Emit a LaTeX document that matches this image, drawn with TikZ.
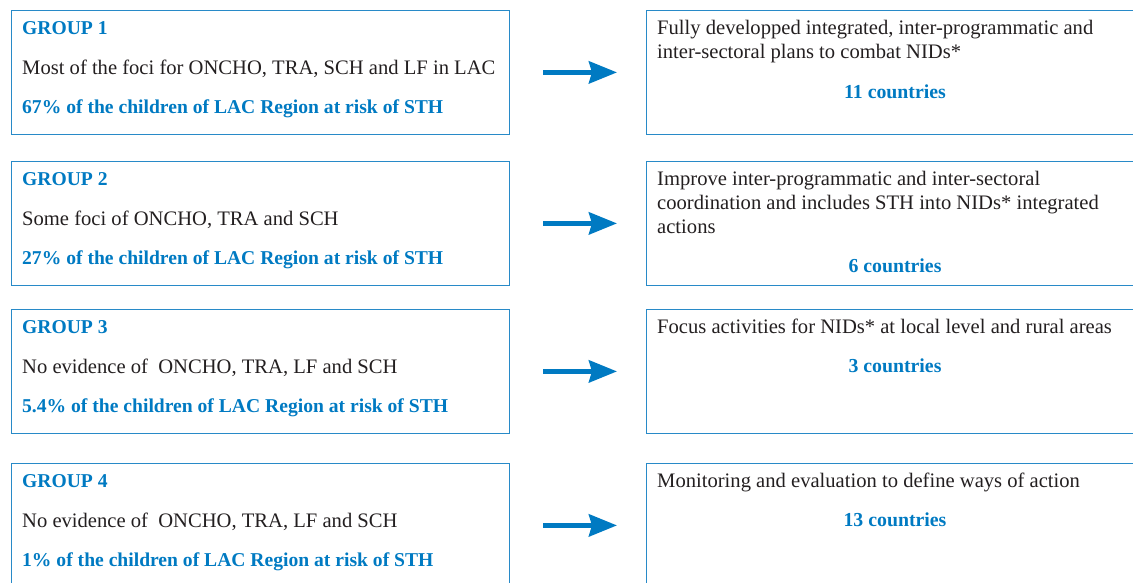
\documentclass[tikz,border=0pt]{standalone}
\usepackage{fontspec}
\setmainfont{Liberation Serif}
\usetikzlibrary{arrows.meta}
\definecolor{pahoblue}{RGB}{0,122,194}
\definecolor{boxblue}{RGB}{40,138,200}
\definecolor{txt}{RGB}{35,31,32}
\begin{document}
\begin{tikzpicture}[x=1pt,y=-1pt,
 box/.style={draw=boxblue,line width=1.3pt,rectangle,inner sep=0pt,anchor=north west,minimum height=123.5pt},
 lbox/.style={box,minimum width=498pt},
 rbox/.style={box,minimum width=494pt},
 txtl/.style={anchor=base west,inner sep=0pt,font=\fontsize{20.6}{24}\selectfont,text=txt},
 head/.style={anchor=base west,inner sep=0pt,font=\fontsize{19.6}{24}\selectfont\bfseries,text=pahoblue},
 cnt/.style={anchor=base,inner sep=0pt,font=\fontsize{19.8}{24}\selectfont\bfseries,text=pahoblue},
 link/.style={draw=pahoblue,line width=5pt,-{Stealth[length=28pt,width=22pt,inset=3pt]},shorten <=33pt,shorten >=29pt}
]
\useasboundingbox (0,0) rectangle (1133,582);
\clip (0,0) rectangle (1133,582);

% left boxes
\node[lbox] (L1) at (11,10) {};
\node[lbox] (L2) at (11,161) {};
\node[lbox] (L3) at (11,309) {};
\node[lbox] (L4) at (11,463) {};
% right boxes
\node[rbox] (R1) at (646,10) {};
\node[rbox] (R2) at (646,161) {};
\node[rbox] (R3) at (646,309) {};
\node[rbox] (R4) at (646,463) {};

% arrows
\draw[link] (L1.east) -- (R1.west);
\draw[link] (L2.east) -- (R2.west);
\draw[link] (L3.east) -- (R3.west);
\draw[link] (L4.east) -- (R4.west);

% left texts
\node[head] (g1) at (22,34) {GROUP 1};
\node[txtl] (g1a) at (22,74) {Most of the foci for ONCHO, TRA, SCH and LF in LAC};
\node[head] (g1b) at (22,113) {67\% of the children of LAC Region at risk of STH};

\node[head] (g2) at (22,185) {GROUP 2};
\node[txtl] (g2a) at (22,225) {Some foci of ONCHO, TRA and SCH};
\node[head] (g2b) at (22,264) {27\% of the children of LAC Region at risk of STH};

\node[head] (g3) at (22,333) {GROUP 3};
\node[txtl] (g3a) at (22,373) {No evidence of\ \ ONCHO, TRA, LF and SCH};
\node[head] (g3b) at (22,412) {5.4\% of the children of LAC Region at risk of STH};

\node[head] (g4) at (22,487) {GROUP 4};
\node[txtl] (g4a) at (22,527) {No evidence of\ \ ONCHO, TRA, LF and SCH};
\node[head] (g4b) at (22,566) {1\% of the children of LAC Region at risk of STH};

% right texts
\node[txtl] (r1a) at (657,34) {Fully developped integrated, inter-programmatic and};
\node[txtl] (r1b) at (657,58) {inter-sectoral plans to combat NIDs*};
\node[cnt] (c1) at (895,98) {11 countries};

\node[txtl] (r2a) at (657,185) {Improve inter-programmatic and inter-sectoral};
\node[txtl] (r2b) at (657,209) {coordination and includes STH into NIDs* integrated};
\node[txtl] (r2c) at (657,233) {actions};
\node[cnt] (c2) at (895,272) {6 countries};

\node[txtl] (r3a) at (657,333) {Focus activities for NIDs* at local level and rural areas};
\node[cnt] (c3) at (895,372) {3 countries};

\node[txtl] (r4a) at (657,487) {Monitoring and evaluation to define ways of action};
\node[cnt] (c4) at (895,526) {13 countries};
\end{tikzpicture}
\end{document}
